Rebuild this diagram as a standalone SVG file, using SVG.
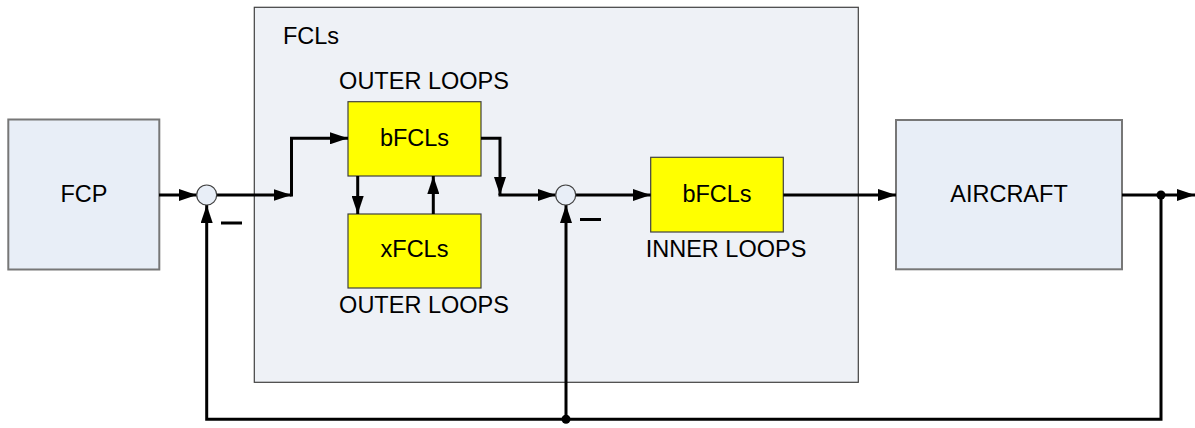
<svg xmlns="http://www.w3.org/2000/svg" width="1195" height="428" viewBox="0 0 1195 428">
<defs>
<style>
text{font-family:"Liberation Sans",Arial,sans-serif;font-size:23.5px;fill:#000;text-anchor:middle}
.blue{fill:#E8EEF7;stroke:#777;stroke-width:2}
.yel{fill:#FFFF00;stroke:#404040;stroke-width:1.2}
.sum{fill:#E8EEF7;stroke:#404040;stroke-width:1.2}
.c{fill:none;stroke:#000;stroke-width:3}
.ca{fill:none;stroke:#000;stroke-width:3;marker-end:url(#ah)}
</style>
<marker id="ah" markerUnits="userSpaceOnUse" markerWidth="18" markerHeight="12" refX="18" refY="6" orient="auto">
<path d="M0,0 L18,6 L0,12 z" fill="#000"/>
</marker>
</defs>
<rect width="1195" height="428" fill="#fff"/>
<g id="fcls-group">
<rect x="254.3" y="7.3" width="604" height="375" fill="#EEF1F6" stroke="#404040" stroke-width="1.2"/>
<text x="311" y="44">FCLs</text>
</g>
<g id="fcp"><rect class="blue" x="8.3" y="119.5" width="151" height="150"/><text x="84" y="202">FCP</text></g>
<g id="aircraft"><rect class="blue" x="896" y="120" width="226" height="149.3"/><text x="1009" y="202">AIRCRAFT</text></g>
<g id="bfcls-outer"><rect class="yel" x="348" y="101.7" width="133" height="74.3"/><text x="414.5" y="146">bFCLs</text><text x="424" y="89">OUTER LOOPS</text></g>
<g id="xfcls"><rect class="yel" x="348" y="214" width="133" height="74"/><text x="414.5" y="257">xFCLs</text><text x="424" y="313">OUTER LOOPS</text></g>
<g id="bfcls-inner"><rect class="yel" x="650.7" y="157.3" width="132.6" height="74.7"/><text x="717" y="202">bFCLs</text><text x="726" y="257">INNER LOOPS</text></g>
<g id="connectors">
<path class="ca" d="M159,195 H196.7"/>
<path class="ca" d="M216.7,195 H291.5"/>
<path class="ca" d="M291.5,196.5 V138.3 H348"/>
<path class="ca" d="M357.7,176 V214"/>
<path class="ca" d="M433.3,214 V176"/>
<path class="ca" d="M481,138.3 H500 V195"/>
<path class="ca" d="M498.5,195 H555.7"/>
<path class="ca" d="M575.7,195 H650.7"/>
<path class="ca" d="M783.3,195 H896"/>
<path class="ca" d="M1122,195 H1195"/>
<path class="ca" d="M1161,195 V419.3 H206.7 V205"/>
<path class="ca" d="M566,419.3 V205"/>
<circle cx="1161" cy="195" r="4.5" fill="#000"/>
<circle cx="566" cy="419.3" r="4.5" fill="#000"/>
<path class="c" d="M221,223 H242 M580,219.5 H601"/>
</g>
<g id="sum1"><circle class="sum" cx="206.7" cy="195" r="10"/></g>
<g id="sum2"><circle class="sum" cx="565.7" cy="195" r="10"/></g>
</svg>
